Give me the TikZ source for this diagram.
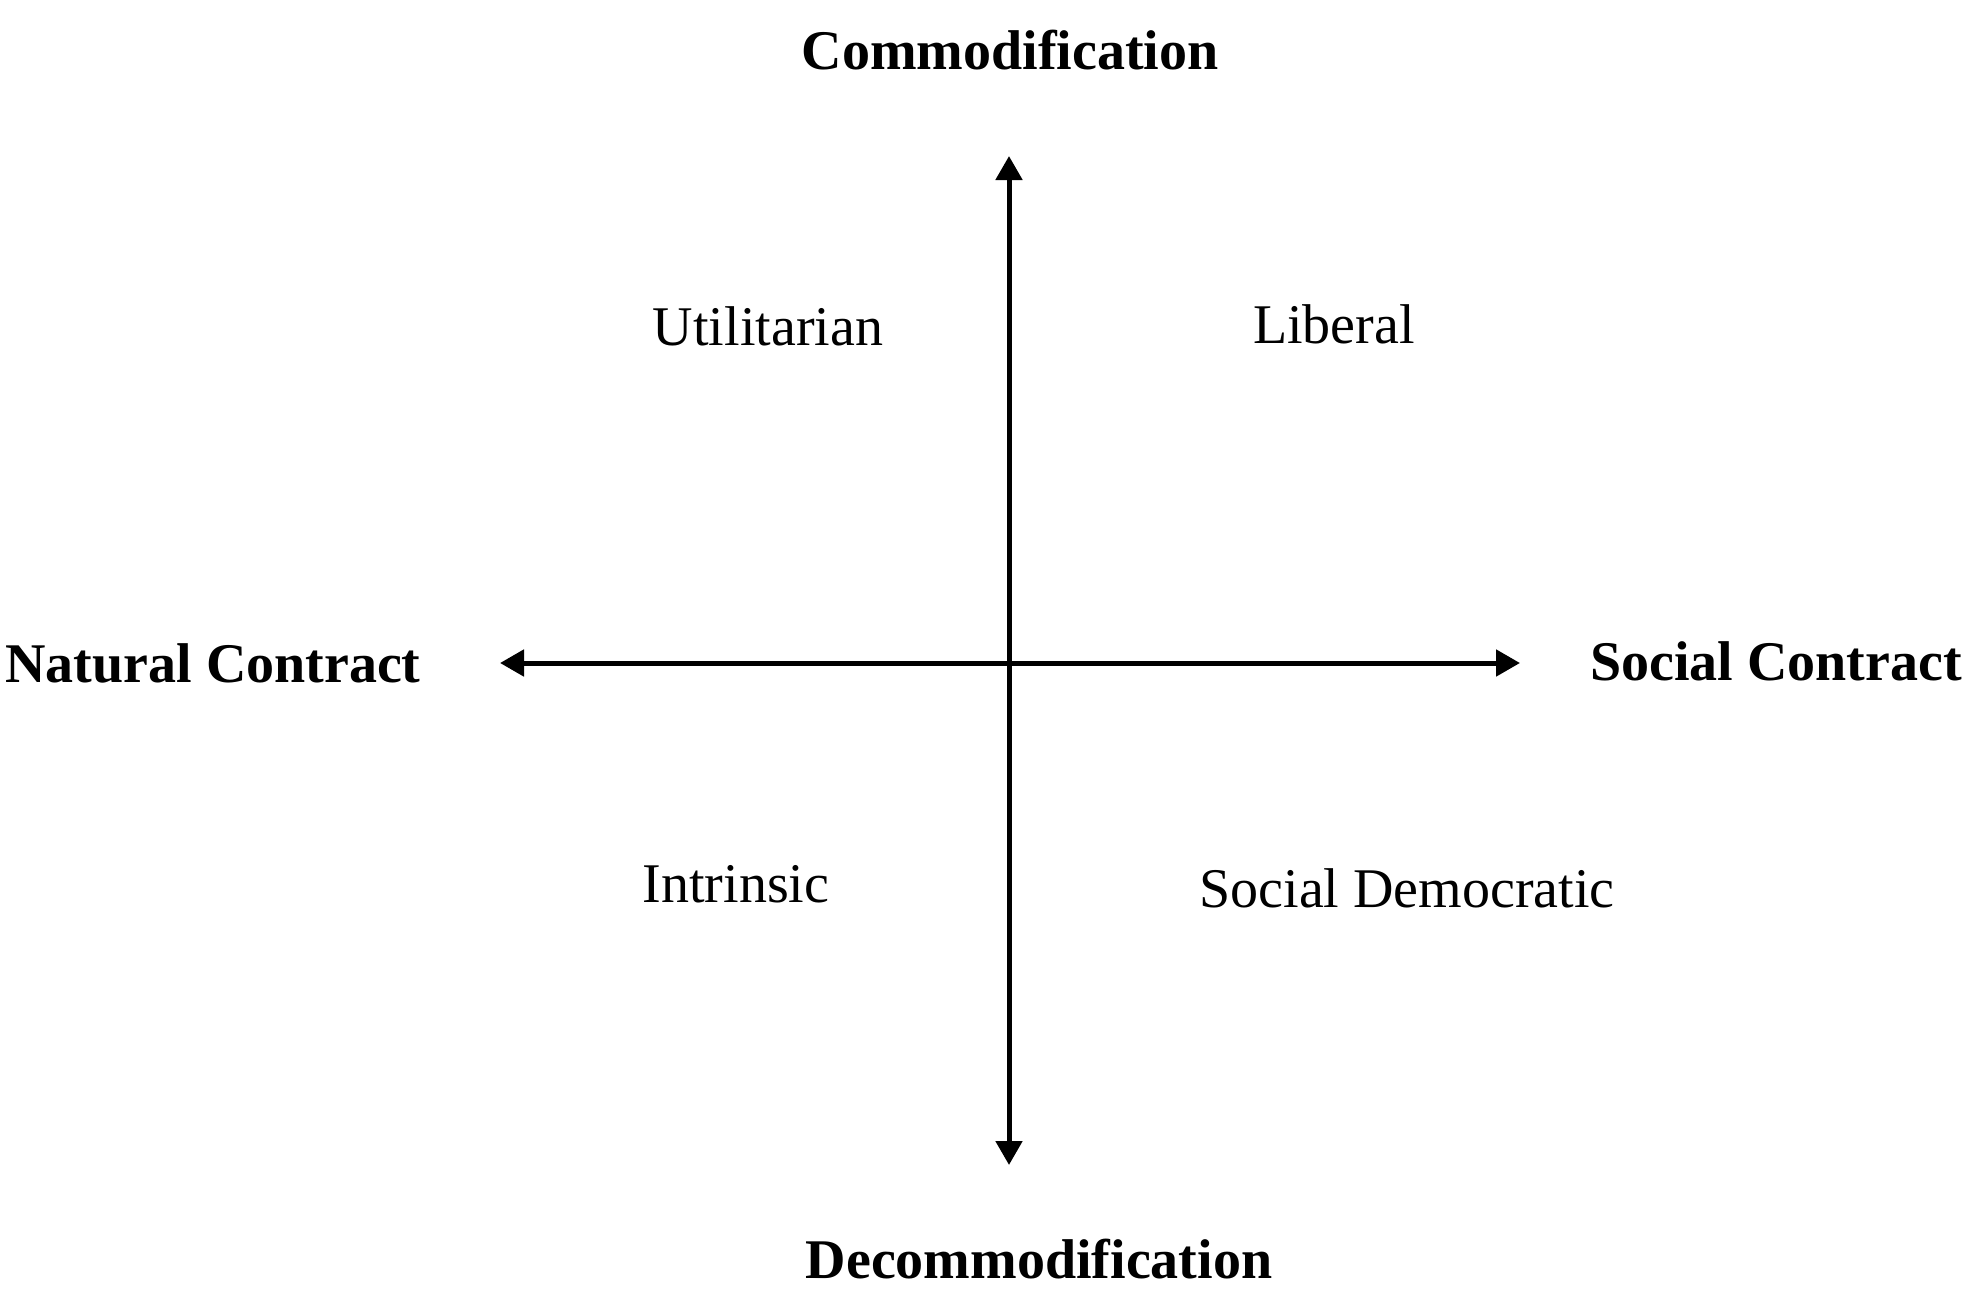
\documentclass[tikz,border=0pt]{standalone}
\usepackage{fontspec}
\setmainfont{Liberation Serif}
\usetikzlibrary{arrows.meta}
\tikzset{
  axislbl/.style={anchor=base, inner sep=0pt, font=\fontsize{56}{60}\selectfont\bfseries},
  quadlbl/.style={anchor=base, inner sep=0pt, font=\fontsize{56}{60}\selectfont},
  axisline/.style={line width=5pt, {Triangle[length=24pt,width=26pt]}-{Triangle[length=24pt,width=26pt]}}
}
\begin{document}
\begin{tikzpicture}[x=1pt,y=-1pt]
\useasboundingbox (0,0) rectangle (1981,1309);
\coordinate (top) at (1009,156);
\coordinate (bot) at (1009,1165);
\coordinate (left) at (500,663);
\coordinate (right) at (1520,663);
\draw[axisline] (top) -- (bot);
\draw[axisline] (left) -- (right);
\node[axislbl] (com) at (1010,69) {Commodification};
\node[axislbl] (dec) at (1039,1278) {Decommodification};
\node[axislbl] (nat) at (213,682) {Natural Contract};
\node[axislbl] (soc) at (1776,680) {Social Contract};
\node[quadlbl] (uti) at (768,345) {Utilitarian};
\node[quadlbl] (lib) at (1334,343) {Liberal};
\node[quadlbl] (int) at (736,902) {Intrinsic};
\node[quadlbl] (sd) at (1407,907) {Social Democratic};
\end{tikzpicture}
\end{document}
